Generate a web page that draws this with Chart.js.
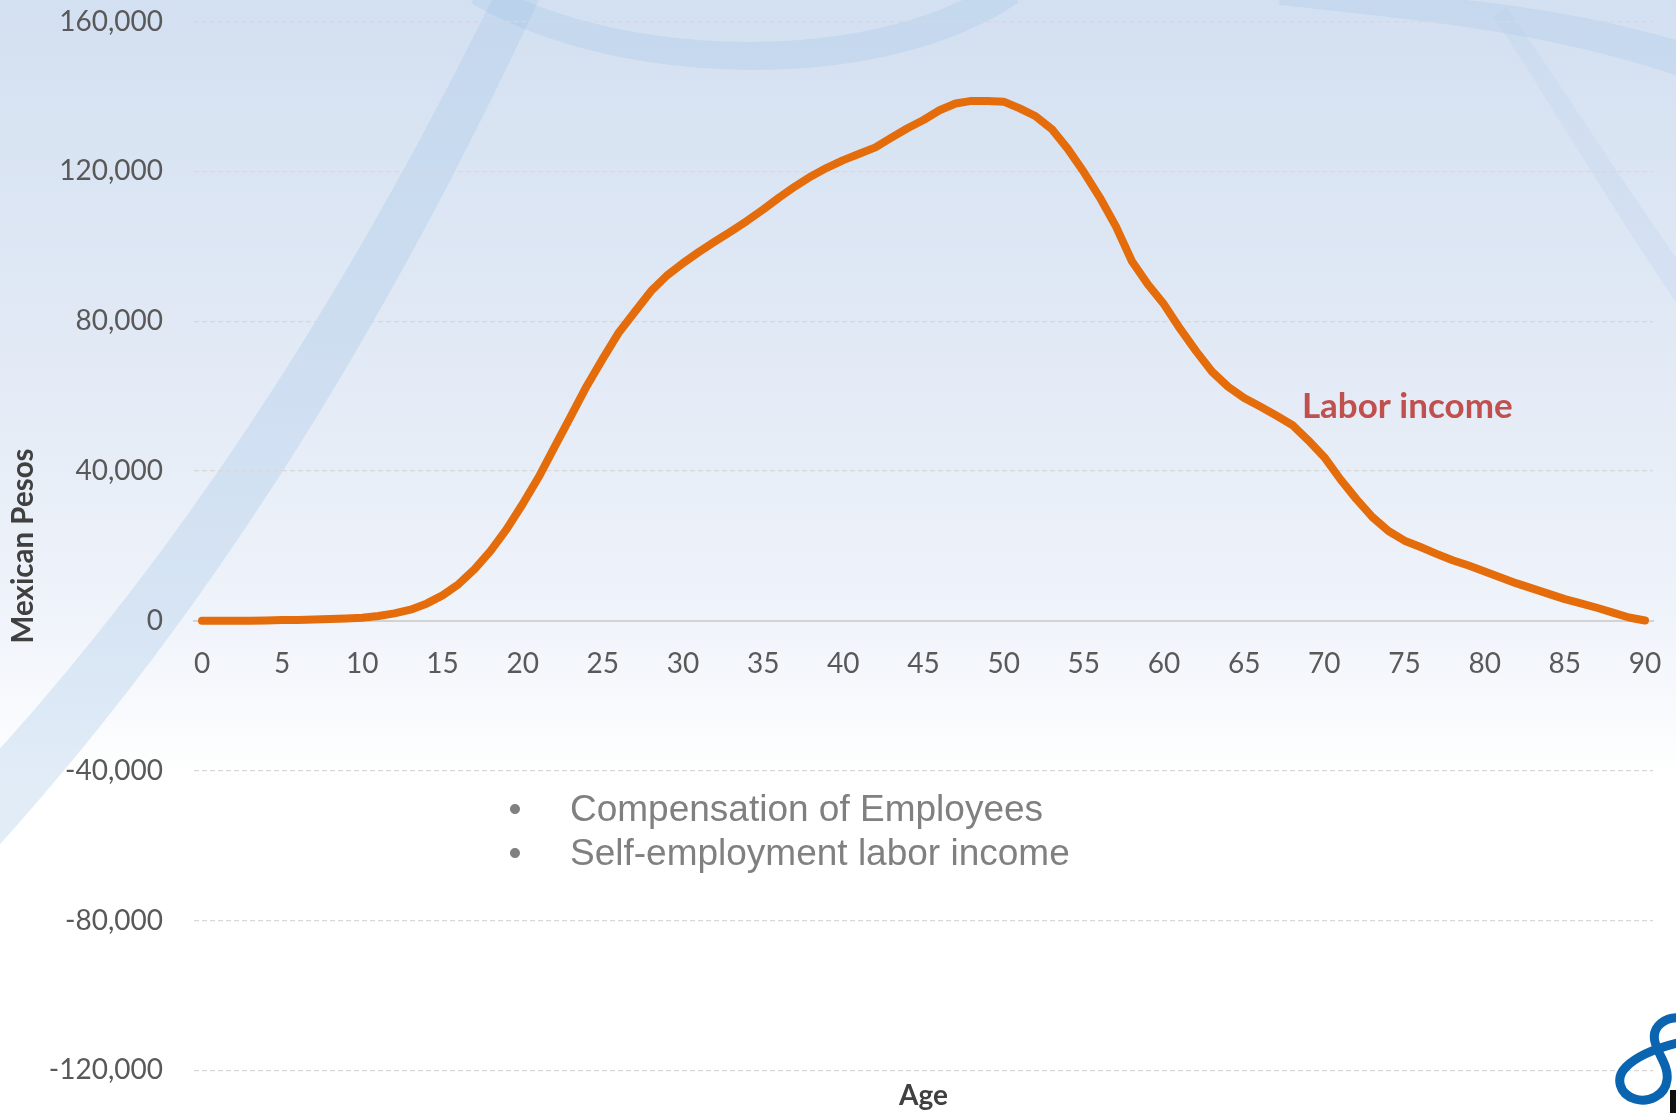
<!DOCTYPE html>
<html>
<head>
<meta charset="utf-8">
<title>Labor income by age</title>
<script src="https://cdn.jsdelivr.net/npm/chart.js@4/dist/chart.umd.min.js"></script>
<style>
  html, body { margin: 0; padding: 0; background: #ffffff; overflow: hidden; }
  #wrap { width: 1676px; height: 1113px; position: relative; }
  canvas { display: block; }
</style>
</head>
<body>
<div id="wrap"><canvas id="chart" width="1676" height="1113"></canvas></div>
<script>
// Age categories (years)
const ages = [0,1,2,3,4,5,6,7,8,9,10,11,12,13,14,15,16,17,18,19,20,21,22,23,24,25,26,27,28,29,
  30,31,32,33,34,35,36,37,38,39,40,41,42,43,44,45,46,47,48,49,50,51,52,53,54,55,56,57,58,59,
  60,61,62,63,64,65,66,67,68,69,70,71,72,73,74,75,76,77,78,79,80,81,82,83,84,85,86,87,88,89,90];

// Per-capita labor income by age, Mexican pesos
const laborIncome = [0,0,0,0,100,200,250,350,500,650,
  850,1300,2000,3000,4600,6800,9800,13800,18700,24500,
  31200,38400,46500,54600,62700,70000,77000,82500,88000,92200,
  95500,98500,101300,104000,106800,109800,113000,116000,118700,121000,
  123000,124700,126400,129000,131500,133700,136300,138100,138800,138800,
  138600,136800,134700,131300,126000,119800,113000,105300,96000,89800,
  84500,78000,72000,66500,62500,59500,57200,54800,52300,48200,
  43700,37800,32500,27700,24000,21400,19700,17900,16200,14800,
  13200,11600,10000,8600,7200,5800,4700,3500,2200,900,100];

// Value axis range and tick spacing
const yMin = -120000;
const yMax = 160000;
const yStep = 40000;

// Text items
const seriesLabel = 'Labor income';
const seriesLabelAt = { age: 68.6, value: 57200 };
const bulletItems = ['Compensation of Employees', 'Self-employment labor income'];
const yTitle = 'Mexican Pesos';
const xTitle = 'Age';

const tickFont = 'Lato, "Noto Sans", sans-serif';

// Slide background: vertical wash plus soft ribbons and the corner emblem
const backdrop = {
  id: 'backdrop',
  beforeDraw(chart) {
    const ctx = chart.ctx;
    const W = chart.width, H = chart.height;
    ctx.save();
    const g = ctx.createLinearGradient(0, 0, 0, H);
    g.addColorStop(0, '#d3e0f1');
    g.addColorStop(0.30, '#e1e9f5');
    g.addColorStop(0.55, '#eff3fa');
    g.addColorStop(0.70, '#ffffff');
    g.addColorStop(1, '#ffffff');
    ctx.fillStyle = g;
    ctx.fillRect(0, 0, W, H);

    // ribbon with varying width along a cubic curve
    function ribbon(p0, p1, p2, p3, w0, w1, color) {
      const left = [], right = [];
      const N = 80;
      for (let i = 0; i <= N; i++) {
        const t = i / N, u = 1 - t;
        const x = u*u*u*p0[0] + 3*u*u*t*p1[0] + 3*u*t*t*p2[0] + t*t*t*p3[0];
        const y = u*u*u*p0[1] + 3*u*u*t*p1[1] + 3*u*t*t*p2[1] + t*t*t*p3[1];
        const dx = 3*u*u*(p1[0]-p0[0]) + 6*u*t*(p2[0]-p1[0]) + 3*t*t*(p3[0]-p2[0]);
        const dy = 3*u*u*(p1[1]-p0[1]) + 6*u*t*(p2[1]-p1[1]) + 3*t*t*(p3[1]-p2[1]);
        const len = Math.hypot(dx, dy) || 1;
        const nx = -dy / len, ny = dx / len;
        const hw = (w0 + (w1 - w0) * t) / 2;
        left.push([x + nx*hw, y + ny*hw]);
        right.push([x - nx*hw, y - ny*hw]);
      }
      ctx.beginPath();
      ctx.moveTo(left[0][0], left[0][1]);
      for (const p of left) ctx.lineTo(p[0], p[1]);
      for (let i = right.length - 1; i >= 0; i--) ctx.lineTo(right[i][0], right[i][1]);
      ctx.closePath();
      ctx.fillStyle = color;
      ctx.fill();
    }
    const band = 'rgba(170,200,232,0.35)';
    ribbon([-50, 850], [150, 640], [340, 370], [525, -20], 66, 42, band);
    ribbon([478, -8], [620, 75], [880, 80], [1010, -10], 26, 30, band);
    ribbon([1280, -6], [1450, 10], [1560, 20], [1690, 62], 22, 34, 'rgba(170,200,232,0.30)');
    ribbon([1500, 12], [1560, 100], [1620, 200], [1690, 300], 16, 26, 'rgba(170,200,232,0.18)');
    ctx.restore();
  },
  afterDraw(chart) {
    const ctx = chart.ctx;
    ctx.save();
    // emblem in the lower right corner
    ctx.strokeStyle = '#0b64b0';
    ctx.lineWidth = 9;
    ctx.lineCap = 'round';
    ctx.beginPath();
    ctx.moveTo(1682, 1018);
    ctx.bezierCurveTo(1666, 1016, 1651, 1026, 1655, 1042);
    ctx.bezierCurveTo(1658, 1055, 1669, 1066, 1667, 1080);
    ctx.bezierCurveTo(1665, 1096, 1648, 1103, 1635, 1099);
    ctx.bezierCurveTo(1619, 1094, 1615, 1078, 1626, 1067);
    ctx.bezierCurveTo(1638, 1055, 1660, 1047, 1682, 1042);
    ctx.stroke();
    ctx.fillStyle = '#111111';
    ctx.fillRect(1670, 1090, 6, 23);

    // bullet list on the slide
    ctx.fillStyle = '#808080';
    ctx.font = '37px "Liberation Sans", Arial, sans-serif';
    ctx.textBaseline = 'alphabetic';
    bulletItems.forEach((txt, i) => {
      const base = 821 + i * 44;
      ctx.textAlign = 'center';
      ctx.fillText('\u2022', 515, base);
      ctx.textAlign = 'left';
      ctx.fillText(txt, 570, base);
    });
    ctx.restore();
  }
};

// Series label placed in data coordinates
const seriesTag = {
  id: 'seriesTag',
  afterDatasetsDraw(chart) {
    const { ctx, scales: { x, y } } = chart;
    ctx.save();
    ctx.font = 'bold 35px Lato, "Noto Sans", sans-serif';
    ctx.fillStyle = '#c0504d';
    ctx.textAlign = 'left';
    ctx.textBaseline = 'middle';
    ctx.fillText(seriesLabel, x.getPixelForValue(seriesLabelAt.age), y.getPixelForValue(seriesLabelAt.value));
    ctx.restore();
  }
};

new Chart(document.getElementById('chart'), {
  type: 'line',
  data: {
    labels: ages,
    datasets: [{
      label: seriesLabel,
      data: laborIncome,
      borderColor: '#e46c0a',
      borderWidth: 8,
      borderCapStyle: 'round',
      borderJoinStyle: 'round',
      pointRadius: 0,
      tension: 0,
      fill: false
    }]
  },
  options: {
    responsive: false,
    animation: false,
    devicePixelRatio: 1,
    layout: { padding: { top: 21.5, right: 23, bottom: 0, left: 0 } },
    plugins: {
      legend: { display: false },
      tooltip: { enabled: false },
      title: {
        display: true,
        text: xTitle,
        position: 'bottom',
        fullSize: false,
        color: '#404040',
        font: { family: tickFont, size: 28, weight: 'bold' },
        padding: { top: 9, bottom: 0 }
      }
    },
    scales: {
      x: {
        type: 'category',
        position: { y: 0 },
        offset: true,
        grid: { display: false, drawTicks: true, tickLength: 26 },
        border: { display: true, color: '#d2d2d2', width: 2 },
        ticks: {
          autoSkip: false,
          maxRotation: 0,
          padding: 0,
          color: '#595959',
          font: { family: tickFont, size: 28 },
          callback(value, index) { return ages[index] % 5 === 0 ? String(ages[index]) : ''; }
        }
      },
      y: {
        min: yMin,
        max: yMax,
        afterFit(scale) { scale.width = 194; },
        grid: { color: '#d8d8d8', lineWidth: 1.3, drawTicks: true, tickLength: 31, tickColor: 'rgba(0,0,0,0)' },
        border: { display: false, dash: [5, 3] },
        ticks: {
          stepSize: yStep,
          padding: 0,
          color: '#595959',
          font: { family: tickFont, size: 28 },
          callback(v) { return v.toLocaleString('en-US'); }
        },
        title: {
          display: true,
          text: yTitle,
          color: '#404040',
          font: { family: tickFont, size: 29.5, weight: 'bold' },
          padding: { top: 6, bottom: 4 }
        }
      }
    }
  },
  plugins: [backdrop, seriesTag]
});
</script>
</body>
</html>
